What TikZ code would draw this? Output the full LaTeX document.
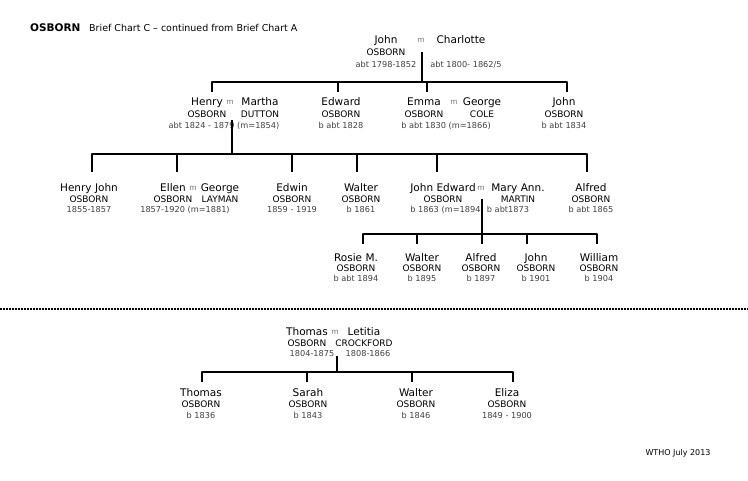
\documentclass[tikz,border=0pt]{standalone}
\usepackage{fontspec}
\setmainfont{DejaVu Sans}
% one person: id, x, baseline y, given name, surname, dates
\newcommand{\person}[6]{%
  \node[nm] (#1n) at (#2,#3) {#4};
  \node[sur] (#1s) at (#2,#3+\lh) {#5};
  \node[dt] (#1d) at (#2,#3+2*\lh) {#6};}
\begin{document}
\begin{tikzpicture}[x=1pt, y=-1pt, line join=round,
    tree/.style={line width=1.2pt},
    nm/.style={anchor=base, inner sep=0pt, font=\fontsize{10.5}{12}\selectfont},
    sur/.style={anchor=base, inner sep=0pt, font=\fontsize{9}{11}\selectfont},
    dt/.style={anchor=base, inner sep=0pt, font=\fontsize{8.2}{10}\selectfont, text=black!75},
    mar/.style={anchor=base, inner sep=0pt, font=\fontsize{7.5}{9}\selectfont, text=black!55}]
	\useasboundingbox (0,0) rectangle (748,481);
	
	\node[anchor=base west, inner sep=0pt, font=\bfseries\fontsize{10.5}{12}\selectfont] (title) at (30,31.5) {OSBORN};
	\node[anchor=base west, inner sep=0pt, font=\fontsize{9.5}{11}\selectfont] (subtitle) at (89,31.5) {Brief Chart C -- continued from Brief Chart A};
	
	% John and Charlotte
	\def\lh{12}
	\person{jsen}{386}{44}{John}{OSBORN}{abt 1798-1852}
	\node[mar] (m0) at (421,43) {m};
	\node[nm] (charlotte) at (461,44) {Charlotte};
	\node[dt] (charlotted) at (466,68) {abt 1800- 1862/5};
	\coordinate (jc) at (422,52);
	\coordinate (bar1) at (422,82);
	
	\def\lh{11.5}
	\person{henry}{207}{106}{Henry}{OSBORN}{}
	\node[mar] (m1) at (230,105) {m};
	\person{martha}{260}{106}{Martha}{DUTTON}{}
	\node[dt] (hmd) at (224,129) {abt 1824 - 1879 (m=1854)};
	\person{edward}{341}{106}{Edward}{OSBORN}{b abt 1828}
	\person{emma}{424}{106}{Emma}{OSBORN}{}
	\node[mar] (m2) at (454,105) {m};
	\person{cole}{482}{106}{George}{COLE}{}
	\node[dt] (emd) at (446,129) {b abt 1830 (m=1866)};
	\person{jjun}{564}{106}{John}{OSBORN}{b abt 1834}
	\coordinate (t-henry) at (212,92);
	\coordinate (t-edward) at (338,92);
	\coordinate (t-emma) at (427,92);
	\coordinate (t-john) at (567,92);
	
	\draw[tree] (jc) -- (bar1);
	\draw[tree] (t-henry) |- (bar1) -| (t-john);
	\draw[tree] (t-edward) -- (t-edward |- bar1);
	\draw[tree] (t-emma) -- (t-emma |- bar1);
	
	% children of Henry and Martha
	\coordinate (hm) at (232,120);
	\coordinate (bar2) at (232,154);
	\def\lh{10.5}
	\person{hjohn}{89}{192}{Henry John}{OSBORN}{1855-1857}
	\person{ellen}{173}{192}{Ellen}{OSBORN}{}
	\node[mar] (m3) at (193,191) {m};
	\person{layman}{220}{192}{George}{LAYMAN}{}
	\node[dt] (eld) at (185,213) {1857-1920 (m=1881)};
	\person{edwin}{292}{192}{Edwin}{OSBORN}{1859 - 1919}
	\person{walterA}{361}{192}{Walter}{OSBORN}{b 1861}
	\person{jedward}{443}{192}{John Edward}{OSBORN}{}
	\node[mar] (m4) at (481,191) {m};
	\person{mary}{518}{192}{Mary Ann.}{MARTIN}{}
	\node[dt] (jed) at (447,213) {b 1863 (m=1894)};
	\node[dt] (maryd) at (508,213) {b abt1873};
	\person{alfredA}{591}{192}{Alfred}{OSBORN}{b abt 1865}
	\coordinate (t-hjohn) at (92,172);
	\coordinate (t-ellen) at (177,172);
	\coordinate (t-edwin) at (292,172);
	\coordinate (t-walterA) at (357,172);
	\coordinate (t-jedward) at (437,172);
	\coordinate (t-alfredA) at (587,172);
	
	\draw[tree] (hm) -- (bar2);
	\draw[tree] (t-hjohn) |- (bar2) -| (t-alfredA);
	\foreach \k in {ellen,edwin,walterA,jedward}
		\draw[tree] (t-\k) -- (t-\k |- bar2);
	
	% children of John Edward and Mary Ann
	\coordinate (jm) at (482,199);
	\coordinate (bar3) at (482,234);
	\def\lh{10}
	\person{rosie}{356}{262}{Rosie M.}{OSBORN}{b abt 1894}
	\person{walterB}{422}{262}{Walter}{OSBORN}{b 1895}
	\person{alfredB}{481}{262}{Alfred}{OSBORN}{b 1897}
	\person{johnB}{536}{262}{John}{OSBORN}{b 1901}
	\person{william}{599}{262}{William}{OSBORN}{b 1904}
	\coordinate (t-rosie) at (363,244);
	\coordinate (t-walterB) at (417,244);
	\coordinate (t-alfredB) at (482,244);
	\coordinate (t-johnB) at (527,244);
	\coordinate (t-william) at (597,244);
	
	\draw[tree] (jm) -- (bar3);
	\draw[tree] (t-rosie) |- (bar3) -| (t-william);
	\foreach \k in {walterB,alfredB,johnB}
		\draw[tree] (t-\k) -- (t-\k |- bar3);
	
	% separator
	\coordinate (sepL) at (0,309);
	\coordinate (sepR) at (748,309);
	\draw[line width=1.5pt, dash pattern=on 1.5pt off 1.5pt] (sepL) -- (sepR);
	
	% Thomas and Letitia
	\def\lh{10.5}
	\person{thomas}{307}{336}{Thomas}{OSBORN}{}
	\node[mar] (m5) at (335,335) {m};
	\person{letitia}{364}{336}{Letitia}{CROCKFORD}{}
	\node[dt] (thd) at (312,357) {1804-1875};
	\node[dt] (led) at (368,357) {1808-1866};
	\coordinate (tl) at (337,356);
	\coordinate (bar4) at (337,372);
	\def\lh{11}
	\person{thomasB}{201}{397}{Thomas}{OSBORN}{b 1836}
	\person{sarah}{308}{397}{Sarah}{OSBORN}{b 1843}
	\person{walterC}{416}{397}{Walter}{OSBORN}{b 1846}
	\person{eliza}{507}{397}{Eliza}{OSBORN}{1849 - 1900}
	\coordinate (t-thomasB) at (202,382);
	\coordinate (t-sarah) at (307,382);
	\coordinate (t-walterC) at (412,382);
	\coordinate (t-eliza) at (513,382);
	
	\draw[tree] (tl) -- (bar4);
	\draw[tree] (t-thomasB) |- (bar4) -| (t-eliza);
	\foreach \k in {sarah,walterC}
		\draw[tree] (t-\k) -- (t-\k |- bar4);
	
	\node[anchor=base, inner sep=0pt, font=\fontsize{8}{10}\selectfont] (stamp) at (678,455) {WTHO July 2013};
\end{tikzpicture}
\end{document}
